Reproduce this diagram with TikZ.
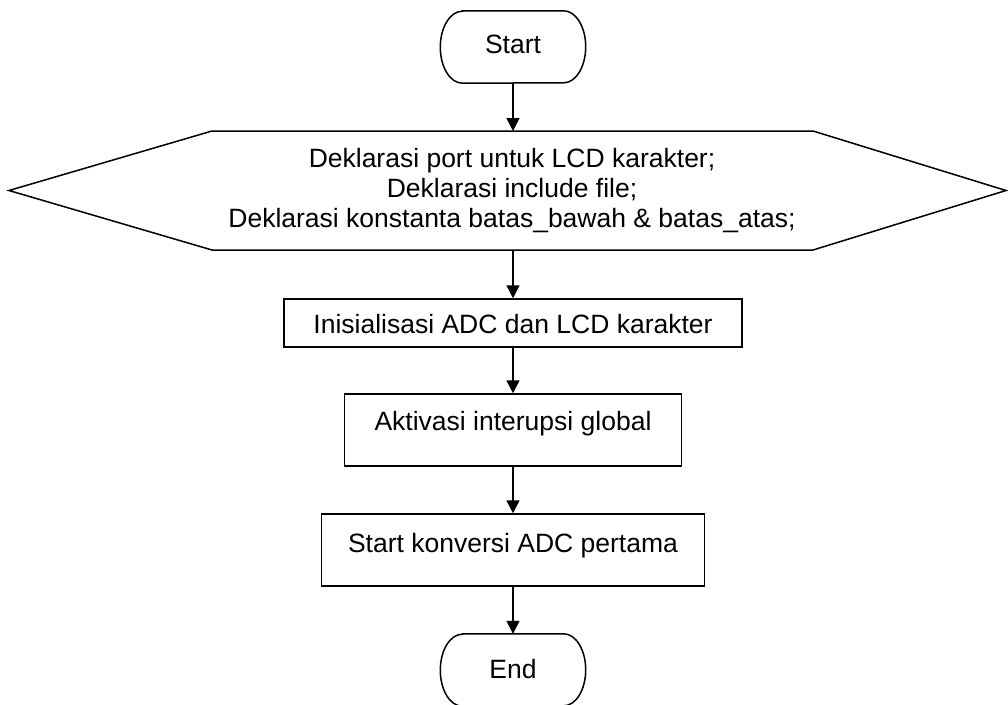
\documentclass[tikz,border=0pt]{standalone}
\usepackage{fontspec}
\setmainfont{Liberation Sans}
\usetikzlibrary{arrows.meta}
\newcommand{\fs}{\fontsize{26.5pt}{30pt}\selectfont}
\begin{document}
\begin{tikzpicture}[x=1pt,y=-1pt,
  line/.style={line width=1.5pt, line join=miter},
  proc/.style={draw, line width=1.5pt, inner sep=0pt, font=\fs, minimum width=#1},
  term/.style={inner sep=0pt, font=\fs, minimum width=#1},
  arr/.style={line width=1.5pt, -{Triangle[length=13pt,width=13pt]}}
]
\useasboundingbox (0,0) rectangle (1008,704);

% Start terminal
\node[term=145pt, text height=42pt, text depth=30pt] (start) at (513,47) {Start};
\draw[line] ([xshift=22pt]start.north west) -- ([xshift=-22pt]start.north east)
  arc[start angle=90, end angle=-90, x radius=22pt, y radius=36pt]
  -- ([xshift=22pt]start.south west)
  arc[start angle=270, end angle=90, x radius=22pt, y radius=36pt] -- cycle;

% Declaration hexagon
\node[font=\fs, align=center, inner sep=0pt] (decl) at (512,190.5)
  {Deklarasi port untuk LCD karakter;\\ Deklarasi include file;\\ Deklarasi konstanta batas\_bawah \& batas\_atas;};
\coordinate (hexN) at (513,131);
\coordinate (hexS) at (513,250);
\draw[line] (9,190.5) -- (212,131) -- (813,131) -- (1006,190.5) -- (813,250) -- (212,250) -- cycle;

% Process boxes
\node[proc=458pt, text height=34pt, text depth=14pt] (init) at (513,323) {Inisialisasi ADC dan LCD karakter};
\node[proc=337pt, text height=36pt, text depth=36pt] (akt) at (513,430) {Aktivasi interupsi global};
\node[proc=383pt, text height=38pt, text depth=34pt] (sk) at (513,550) {Start konversi ADC pertama};

% End terminal
\node[term=145pt, text height=44pt, text depth=28pt] (end) at (513,670) {End};
\draw[line] ([xshift=22pt]end.north west) -- ([xshift=-22pt]end.north east)
  arc[start angle=90, end angle=-90, x radius=22pt, y radius=36pt]
  -- ([xshift=22pt]end.south west)
  arc[start angle=270, end angle=90, x radius=22pt, y radius=36pt] -- cycle;

% Connectors
\draw[arr] (start.south) -- (hexN);
\draw[arr] (hexS) -- (init.north);
\draw[arr] (init.south) -- (akt.north);
\draw[arr] (akt.south) -- (sk.north);
\draw[arr] (sk.south) -- (end.north);
\end{tikzpicture}
\end{document}
